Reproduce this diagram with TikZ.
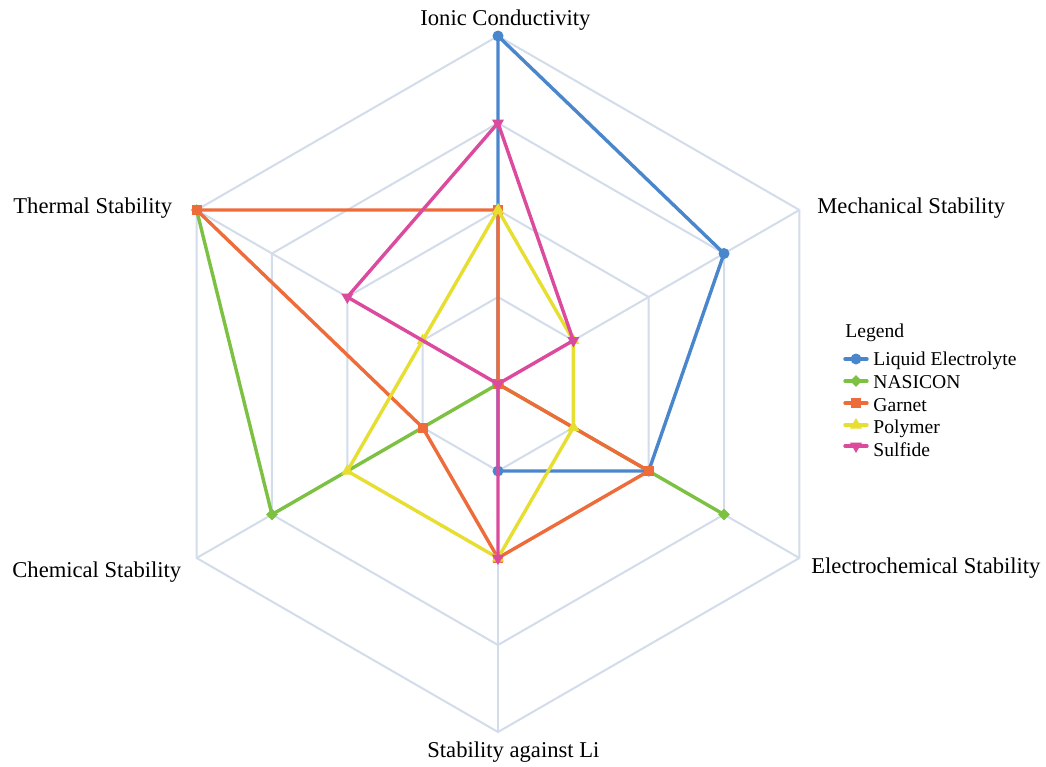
\documentclass[tikz,border=0pt]{standalone}
\usepackage{fontspec}
\setmainfont{Liberation Serif}
\usetikzlibrary{shapes.geometric}
\definecolor{cLiq}{HTML}{4A86CC}
\definecolor{cNas}{HTML}{7DC142}
\definecolor{cGar}{HTML}{EE6C3A}
\definecolor{cPol}{HTML}{E6DE30}
\definecolor{cSul}{HTML}{DC4A9E}
\definecolor{gridc}{HTML}{D3DCEB}
\begin{document}
\begin{tikzpicture}[x=0.5pt,y=-0.5pt,
 gridline/.style={draw=gridc,line width=1pt},
 series/.style={line width=1.7pt,line join=round,line cap=round},
 mcirc/.style={circle,fill=#1,inner sep=0pt,minimum size=5.5pt},
 mdiam/.style={diamond,fill=#1,inner sep=0pt,minimum size=6pt},
 msq/.style={rectangle,fill=#1,inner sep=0pt,minimum size=5pt},
 mtriu/.style={regular polygon,regular polygon sides=3,fill=#1,inner sep=0pt,minimum size=7pt},
 mtrid/.style={regular polygon,regular polygon sides=3,shape border rotate=180,fill=#1,inner sep=0pt,minimum size=7pt},
 axlabel/.style={font=\fontsize{11.3}{13}\selectfont,inner sep=0pt,anchor=base west},
 legtext/.style={font=\fontsize{9.8}{11}\selectfont,inner sep=0pt,anchor=base west}]
\useasboundingbox (0,0) rectangle (1046,767);
\coordinate (C) at (498,384);
\foreach \i/\a in {1/-90,2/-30,3/30,4/90,5/150,6/210}{
  \foreach \l in {0,...,4}{
    \coordinate (g\i\l) at ([shift={(498,384)}]\a:{\l*87});
  }
}
% grid
\foreach \l in {1,...,4}
  \draw[gridline] (g1\l)--(g2\l)--(g3\l)--(g4\l)--(g5\l)--(g6\l)--cycle;
\foreach \i in {1,...,6}
  \draw[gridline] (C)--(g\i4);
% Liquid Electrolyte
\draw[series,cLiq] (g14)--(g23)--(g32)--(g41)--(g50)--(g60)--cycle;
\foreach \p [count=\k] in {g14,g23,g32,g41,g50,g60}
  \node[mcirc=cLiq] (liq\k) at (\p) {};
% NASICON
\draw[series,cNas] (g33)--(g40)--(g53)--(g64);
\foreach \p [count=\k] in {g33,g40,g53,g64}
  \node[mdiam=cNas] (nas\k) at (\p) {};
% Garnet
\draw[series,cGar] (g12)--(g20)--(g32)--(g42)--(g51)--(g64)--cycle;
\foreach \p [count=\k] in {g12,g20,g32,g42,g51,g64}
  \node[msq=cGar] (gar\k) at (\p) {};
% Polymer
\draw[series,cPol] (g12)--(g21)--(g31)--(g42)--(g52)--(g61)--cycle;
\foreach \p [count=\k] in {g12,g21,g31,g42,g52,g61}
  \node[mtriu=cPol] (pol\k) at (\p) {};
% Sulfide
\draw[series,cSul] (g13)--(g21)--(g30)--(g42)--(g50)--(g62)--cycle;
\foreach \p [count=\k] in {g13,g21,g30,g42,g50,g62}
  \node[mtrid=cSul] (sul\k) at (\p) {};
% axis labels
\node[axlabel] (lIon) at (420,25) {Ionic Conductivity};
\node[axlabel] (lMech) at (817,213) {Mechanical Stability};
\node[axlabel] (lElec) at (811,573) {Electrochemical Stability};
\node[axlabel] (lLi) at (427,757) {Stability against Li};
\node[axlabel] (lChem) at (12,577) {Chemical Stability};
\node[axlabel] (lTherm) at (13,213) {Thermal Stability};
% legend
\node[legtext] (legT) at (845,337) {Legend};
\coordinate (la1) at (845,359); \coordinate (lb1) at (867,359);
\draw[series,cLiq] (la1)--(lb1); \node[mcirc=cLiq] (lm1) at (856,359) {};
\node[legtext] (lt1) at (873,365) {Liquid Electrolyte};
\coordinate (la2) at (845,381); \coordinate (lb2) at (867,381);
\draw[series,cNas] (la2)--(lb2); \node[mdiam=cNas] (lm2) at (856,381) {};
\node[legtext] (lt2) at (873,388) {NASICON};
\coordinate (la3) at (845,403); \coordinate (lb3) at (867,403);
\draw[series,cGar] (la3)--(lb3); \node[msq=cGar] (lm3) at (856,403) {};
\node[legtext] (lt3) at (873,411) {Garnet};
\coordinate (la4) at (845,425); \coordinate (lb4) at (867,425);
\draw[series,cPol] (la4)--(lb4); \node[mtriu=cPol] (lm4) at (856,425) {};
\node[legtext] (lt4) at (873,433) {Polymer};
\coordinate (la5) at (845,446); \coordinate (lb5) at (867,446);
\draw[series,cSul] (la5)--(lb5); \node[mtrid=cSul] (lm5) at (856,446) {};
\node[legtext] (lt5) at (873,456) {Sulfide};
\end{tikzpicture}
\end{document}
